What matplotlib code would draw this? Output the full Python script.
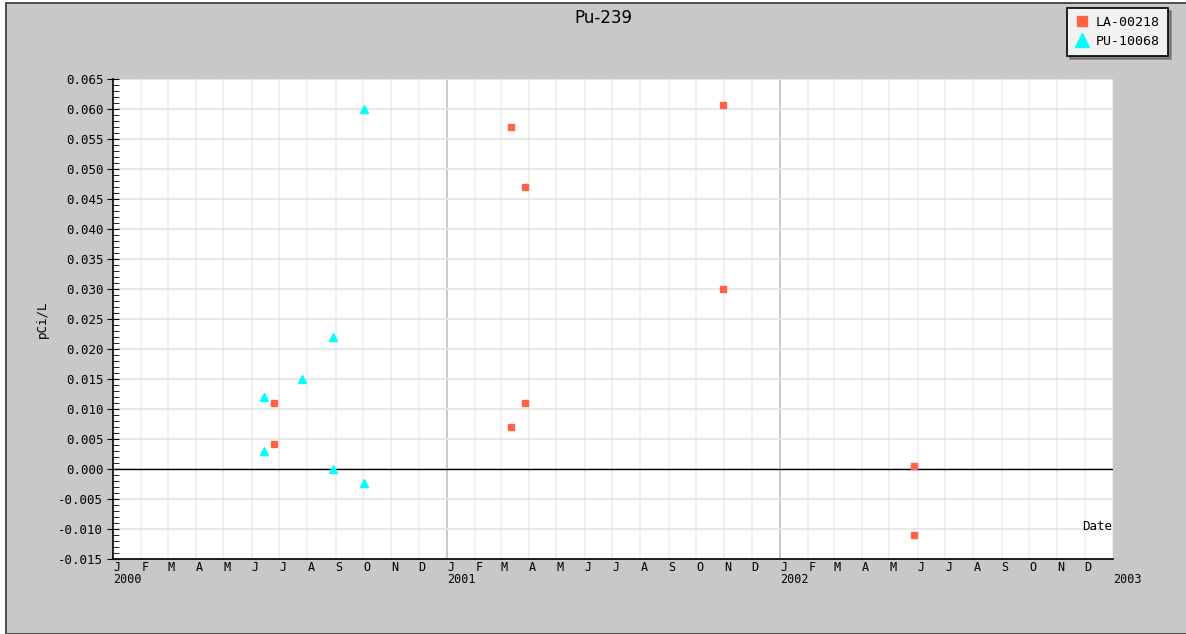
import datetime as dt

import numpy as np
import matplotlib
matplotlib.use('Agg')
import matplotlib.pyplot as plt
import matplotlib.dates as mdates
from matplotlib.patches import Rectangle
from matplotlib.ticker import MultipleLocator, FixedLocator

# data
la_dates = ['2000-06-25', '2000-06-25', '2001-03-12', '2001-03-12', '2001-03-28',
            '2001-03-28', '2001-10-31', '2001-10-31', '2002-05-28', '2002-05-28']
la_values = [0.011, 0.0042, 0.057, 0.007, 0.047, 0.011, 0.0607, 0.030, 0.0005, -0.011]

pu_dates = ['2000-06-14', '2000-06-14', '2000-07-26', '2000-08-29', '2000-08-29',
            '2000-10-02', '2000-10-02']
pu_values = [0.012, 0.003, 0.015, 0.022, 0.0, 0.060, -0.0023]

month_letters = ['J', 'F', 'M', 'A', 'M', 'J', 'J', 'A', 'S', 'O', 'N', 'D']
years = [2000, 2001, 2002]

W, H = 1186, 634
fig = plt.figure(figsize=(W / 100, H / 100), dpi=100, facecolor='white')
plt.rcParams['font.family'] = 'DejaVu Sans Mono'

# grey panel with thin dark border
fig.patches.append(Rectangle((6 / W, 0), 1.0, 1 - 3 / H, transform=fig.transFigure,
                             facecolor='#c8c8c8', edgecolor='#333333', lw=1.2, zorder=-10))

ax = fig.add_axes([113 / W, 1 - 559 / H, 1000 / W, 480 / H])
ax.set_facecolor('white')

la_x = [dt.datetime.strptime(d, '%Y-%m-%d') for d in la_dates]
pu_x = [dt.datetime.strptime(d, '%Y-%m-%d') for d in pu_dates]

ax.set_xlim(dt.datetime(2000, 1, 1), dt.datetime(2003, 1, 1))
ax.set_ylim(-0.015, 0.065)

# month gridlines
months = [dt.datetime(y, m, 1) for y in years for m in range(1, 13)] + [dt.datetime(2003, 1, 1)]
for d in months:
    c = '#c0c0c0' if d.month == 1 and d.year in (2001, 2002) else '#ececec'
    ax.axvline(d, color=c, lw=1.2, zorder=0)
for v in np.arange(-0.015, 0.0651, 0.005):
    ax.axhline(v, color='#e4e4e4', lw=1.2, zorder=0)
ax.axhline(0, color='black', lw=1, zorder=1)

ax.plot(la_x, la_values, 's', color='#ff6347', markersize=4.5, ls='none', label='LA-00218', zorder=3)
ax.plot(pu_x, pu_values, '^', color='#00ffff', markersize=6, ls='none', label='PU-10068', zorder=3)

# x tick labels: month letters with year under January
labels = []
for d in months:
    if d.year == 2003:
        labels.append('\n2003')
    elif d.month == 1:
        labels.append('J\n%d' % d.year)
    else:
        labels.append(month_letters[d.month - 1])
ax.xaxis.set_major_locator(FixedLocator(mdates.date2num(months)))
ax.set_xticklabels(labels, ha='left', fontsize=8.5, linespacing=0.85)
ax.tick_params(axis='x', length=0, pad=1.5)

ax.yaxis.set_major_locator(MultipleLocator(0.005))
ax.yaxis.set_minor_locator(MultipleLocator(0.001))
ax.yaxis.set_major_formatter(matplotlib.ticker.FuncFormatter(lambda v, p: '%.3f' % v))
ax.tick_params(axis='y', which='major', direction='inout', length=8, labelsize=9, pad=3)
ax.tick_params(axis='y', which='minor', direction='in', length=4)

for s in ['top', 'right']:
    ax.spines[s].set_visible(False)
ax.spines['left'].set_linewidth(1.2)
ax.spines['bottom'].set_linewidth(1.2)

ax.set_ylabel('pCi/L', fontsize=9, labelpad=7)
ax.text(0.999, 0.068, 'Date', transform=ax.transAxes, ha='right', va='center', fontsize=9)

fig.text(0.509, 1 - 18 / H, 'Pu-239', ha='center', va='center', fontsize=12, family='DejaVu Sans')

leg = fig.legend(loc='upper right', bbox_to_anchor=(1168 / W, 1 - 8 / H), fontsize=9.5,
                 fancybox=False, shadow=True, framealpha=1, facecolor='#f2f2f2',
                 edgecolor='black', handletextpad=0.6, borderpad=0.6, labelspacing=0.45,
                 handlelength=1.0, markerscale=1.6, borderaxespad=0)
leg.get_frame().set_linewidth(1.2)

fig.savefig('out.png', dpi=100)
